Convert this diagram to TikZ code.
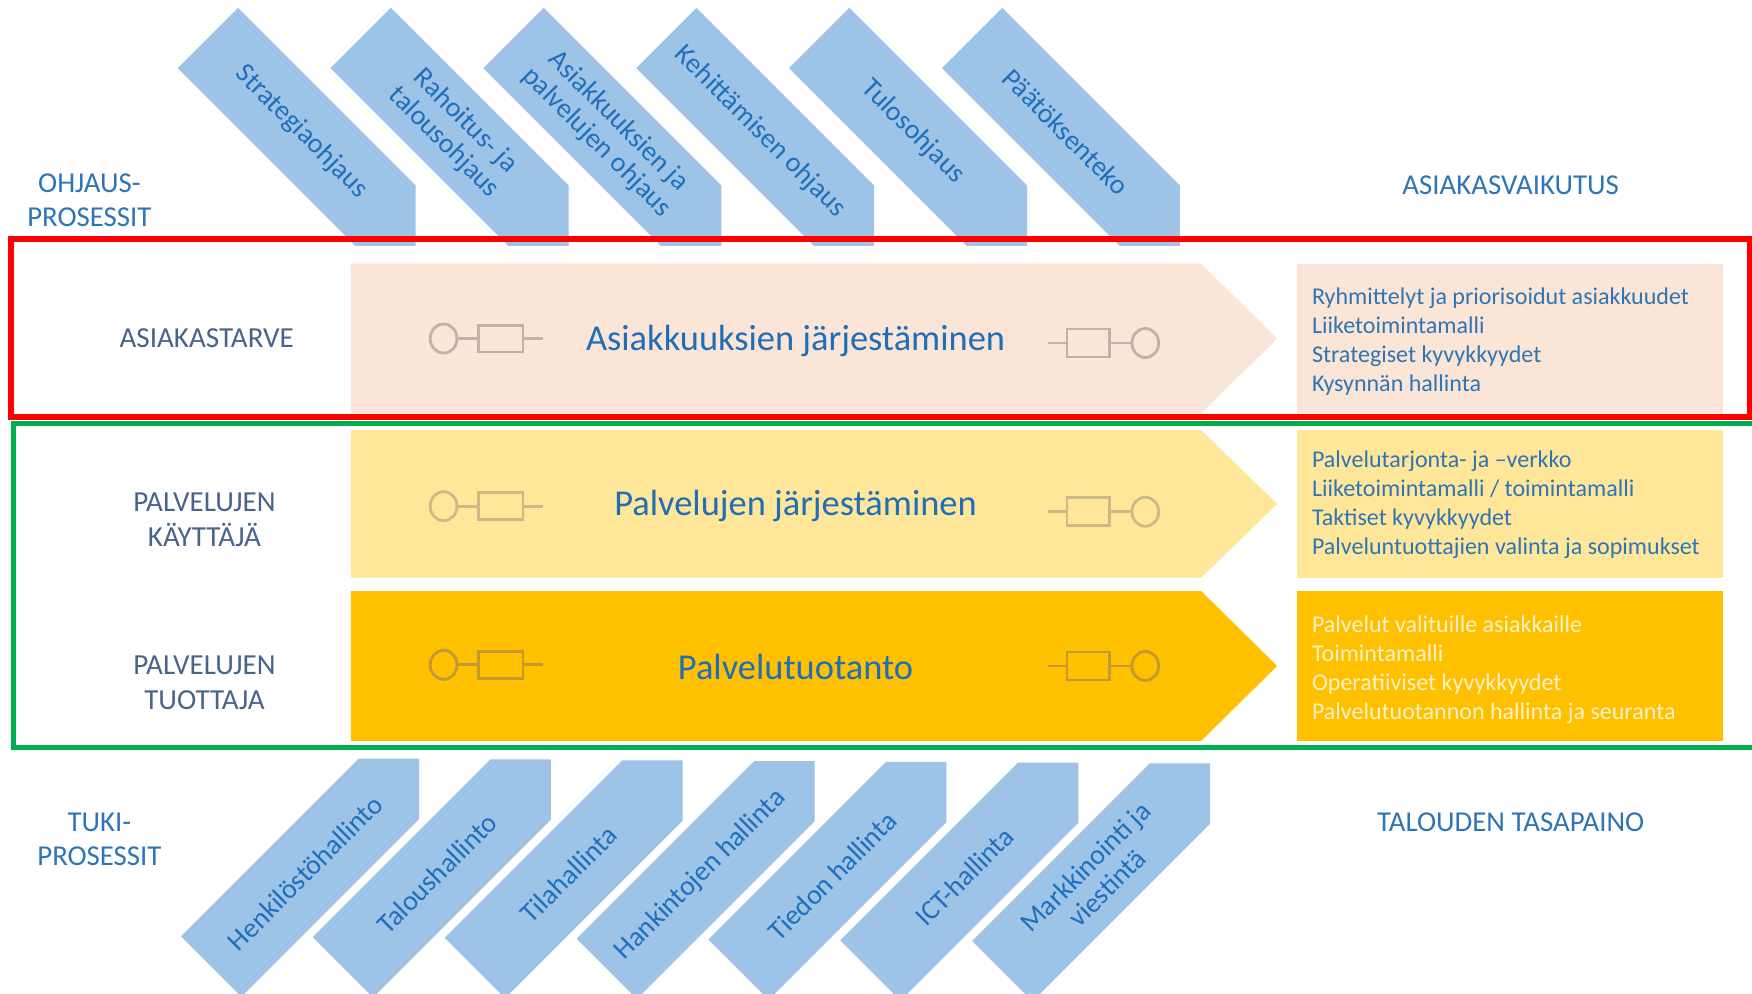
\documentclass[tikz,border=0pt]{standalone}
\usepackage{fontspec}
\setmainfont{Carlito}
\definecolor{chevfill}{RGB}{157,195,230}
\definecolor{chevtext}{RGB}{30,112,190}
\definecolor{headblue}{RGB}{46,117,182}
\definecolor{leftgray}{RGB}{72,100,138}
\definecolor{pinkfill}{RGB}{251,229,214}
\definecolor{lyellow}{RGB}{255,230,153}
\definecolor{goldfill}{RGB}{255,192,0}
\definecolor{boxblue}{RGB}{46,117,182}
\definecolor{maintxt}{RGB}{31,110,185}
\definecolor{cream}{RGB}{255,242,204}
\definecolor{icoA}{RGB}{192,178,168}
\definecolor{icoB}{RGB}{205,185,135}
\definecolor{icoC}{RGB}{196,152,50}
\definecolor{frred}{RGB}{255,0,0}
\definecolor{frgreen}{RGB}{0,176,80}
\tikzset{
  chevlabel/.style={text=chevtext, font=\fontsize{25}{27}\selectfont, align=center, inner sep=0pt},
  sidelabel/.style={text=leftgray, font=\fontsize{26}{31}\selectfont, align=center, inner sep=0pt},
  headlabel/.style={text=headblue, font=\fontsize{25.8}{30}\selectfont, align=center, inner sep=0pt},
  mainlabel/.style={text=maintxt, font=\fontsize{32.6}{34}\selectfont, inner sep=0pt},
  boxlabel/.style={font=\fontsize{21.5}{26}\selectfont, align=left, anchor=west, inner sep=0pt},
  icon/.style={line width=2.5pt},
  frame/.style={line width=5pt}
}
\begin{document}
\begin{tikzpicture}[x=1pt,y=-1pt]
\useasboundingbox (0,0) rectangle (1568,889);
\clip (0,0) rectangle (1568,889);
\fill[white] (0,0) rectangle (1568,889);

% top chevrons (ohjausprosessit)
\foreach \i/\lab in {0/Strategiaohjaus, 1/{Rahoitus- ja\\talousohjaus}, 2/{Asiakkuuksien ja\\palvelujen ohjaus}, 3/Kehittämisen ohjaus, 4/Tulosohjaus, 5/Päätöksenteko} {
  \pgfmathsetmacro\tx{372+136.8*\i}
  \fill[chevfill] (\tx,220) -- (\tx,166) -- (\tx-159,7) -- (\tx-213,61) -- (\tx-54,220) -- cycle;
  \node[chevlabel, rotate=-45] (top\i) at (\tx-102,118) {\lab};
}

% bottom chevrons (tukiprosessit)
\foreach \i/\lab in {0/Henkilöstöhallinto, 1/Taloushallinto, 2/Tilahallinta, 3/Hankintojen hallinta, 4/Tiedon hallinta, 5/ICT-hallinta, 6/{Markkinointi ja\\viestintä}} {
  \pgfmathsetmacro\tx{375+118*\i}
  \pgfmathsetmacro\ty{679+0.7*\i}
  \fill[chevfill] (\tx,\ty) -- (\tx,\ty+54) -- (\tx-159,\ty+213) -- (\tx-213,\ty+159) -- (\tx-54,\ty) -- cycle;
  \node[chevlabel, rotate=45] (bot\i) at (\tx-102,\ty+102) {\lab};
}

% main arrows
\fill[pinkfill] (314,236) -- (1075,236) -- (1143,303) -- (1075,370) -- (314,370) -- cycle;
\fill[lyellow] (314,385) -- (1075,385) -- (1143,451) -- (1075,517) -- (314,517) -- cycle;
\fill[goldfill] (314,529) -- (1075,529) -- (1143,596) -- (1075,663) -- (314,663) -- cycle;

% right boxes
\fill[pinkfill] (1161,236) rectangle (1542,370);
\fill[lyellow] (1161,385) rectangle (1542,517);
\fill[goldfill] (1161,529) rectangle (1542,663);

% icons
\foreach \yl/\yr/\c in {303/307/icoA, 453/458/icoB, 595/596/icoC} {
  \draw[icon, draw=\c] (397,\yl) ellipse [x radius=12pt, y radius=13pt];
  \draw[icon, draw=\c] (409,\yl) -- (428,\yl);
  \draw[icon, draw=\c] (428,\yl-12) rectangle (468,\yl+12);
  \draw[icon, draw=\c] (468,\yl) -- (486,\yl);
  \draw[icon, draw=\c] (938,\yr) -- (955,\yr);
  \draw[icon, draw=\c] (955,\yr-12.5) rectangle (993,\yr+12.5);
  \draw[icon, draw=\c] (993,\yr) -- (1013,\yr);
  \draw[icon, draw=\c] (1025,\yr) ellipse [x radius=12pt, y radius=13pt];
}

% main texts
\node[mainlabel] (m1) at (712,305) {Asiakkuuksien järjestäminen};
\node[mainlabel] (m2) at (712,453) {Palvelujen järjestäminen};
\node[mainlabel] (m3) at (712,597) {Palvelutuotanto};

% box texts
\node[boxlabel, text=boxblue] (b1) at (1174,306) {Ryhmittelyt ja priorisoidut asiakkuudet\\Liiketoimintamalli\\Strategiset kyvykkyydet\\Kysynnän hallinta};
\node[boxlabel, text=boxblue] (b2) at (1174,452) {Palvelutarjonta- ja –verkko\\Liiketoimintamalli / toimintamalli\\Taktiset kyvykkyydet\\Palveluntuottajien valinta ja sopimukset};
\node[boxlabel, text=cream] (b3) at (1174,599) {Palvelut valituille asiakkaille\\Toimintamalli\\Operatiiviset kyvykkyydet\\Palvelutuotannon hallinta ja seuranta};

% side labels
\node[sidelabel] (s1) at (185,303) {ASIAKASTARVE};
\node[sidelabel] (s2) at (183,465) {PALVELUJEN\\KÄYTTÄJÄ};
\node[sidelabel] (s3) at (183,611) {PALVELUJEN\\TUOTTAJA};

% headings
\node[headlabel] (h1) at (80,179) {OHJAUS-\\PROSESSIT};
\node[headlabel] (h2) at (89,751) {TUKI-\\PROSESSIT};
\node[headlabel] (h3) at (1352,166) {ASIAKASVAIKUTUS};
\node[headlabel] (h4) at (1352,736) {TALOUDEN TASAPAINO};

% frames
\draw[frame, frgreen] (12,379) rectangle (1590,669);
\draw[frame, frred] (10,214) rectangle (1566,373);
\end{tikzpicture}
\end{document}
